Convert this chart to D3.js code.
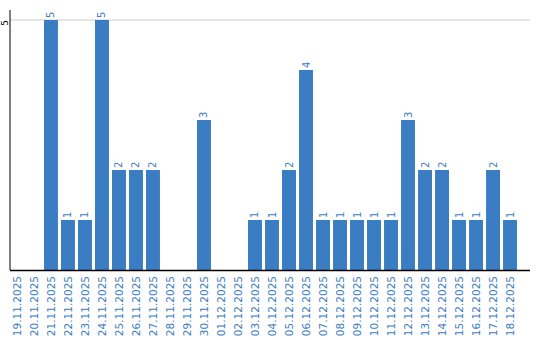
<!DOCTYPE html>
<html>
<head>
<meta charset="utf-8">
<script src="https://cdn.jsdelivr.net/npm/d3@7"></script>
<style>
  body { margin: 0; background: #fff; }
  text { font-family: "DejaVu Sans", Verdana, sans-serif; font-size: 10px; }
</style>
</head>
<body>
<div id="chart"></div>
<script>
var dates = ["19.11.2025", "20.11.2025", "21.11.2025", "22.11.2025", "23.11.2025",
  "24.11.2025", "25.11.2025", "26.11.2025", "27.11.2025", "28.11.2025",
  "29.11.2025", "30.11.2025", "01.12.2025", "02.12.2025", "03.12.2025",
  "04.12.2025", "05.12.2025", "06.12.2025", "07.12.2025", "08.12.2025",
  "09.12.2025", "10.12.2025", "11.12.2025", "12.12.2025", "13.12.2025",
  "14.12.2025", "15.12.2025", "16.12.2025", "17.12.2025", "18.12.2025"];
var counts = [0, 0, 5, 1, 1, 5, 2, 2, 2, 0, 0, 3, 0, 0, 1, 1, 2, 4, 1, 1, 1, 1, 1, 3, 2, 2, 1, 1, 2, 1];
var yTicks = [5];

var data = dates.map(function(d, i) {
  return { date: d, value: counts[i] };
});

var width = 540, height = 340;
var plotLeft = 10, plotRight = 530, plotTop = 10, plotBottom = 270;
var blue = "#3a7dc2";

var svg = d3
  .select("#chart")
  .append("svg")
  .attr("width", width)
  .attr("height", height);

var x = d3
  .scaleBand()
  .domain(dates)
  .range([plotLeft, 517])
  .paddingInner(0.18)
  .paddingOuter(0);
var y = d3.scaleLinear().domain([0, 5.2]).range([plotBottom, plotTop]);

// grid
svg
  .selectAll(".grid")
  .data(yTicks)
  .enter()
  .append("line")
  .attr("class", "grid")
  .attr("x1", plotLeft)
  .attr("x2", plotRight)
  .attr("y1", d => y(d))
  .attr("y2", d => y(d))
  .style("stroke", "#cccccc")
  .style("stroke-width", 1);

// y tick labels
svg
  .selectAll(".ytick")
  .data(yTicks)
  .enter()
  .append("text")
  .attr("class", "ytick")
  .attr("transform", d => "translate(4.5," + y(d) + ") rotate(-90)")
  .attr("dy", "0.35em")
  .style("text-anchor", "end")
  .style("font-size", "9px")
  .style("fill", "#000")
  .text(d => d);

svg
  .selectAll(".bar")
  .data(data.filter(d => d.value > 0))
  .enter()
  .append("rect")
  .attr("class", "bar")
  .attr("x", d => x(d.date))
  .attr("width", x.bandwidth())
  .attr("y", d => y(d.value))
  .attr("height", d => plotBottom - y(d.value))
  .style("fill", blue);

svg
  .selectAll(".label")
  .data(data.filter(d => d.value > 0))
  .enter()
  .append("text")
  .attr("class", "label")
  .attr("transform", d => {
    return "translate(" + (x(d.date) + x.bandwidth() / 2) + "," + (y(d.value) - 2) + ") rotate(-90)";
  })
  .attr("dy", "0.35em")
  .style("text-anchor", "start")
  .style("fill", blue)
  .text(d => d.value);

// axes lines
svg
  .append("line")
  .attr("x1", plotLeft)
  .attr("x2", plotLeft)
  .attr("y1", plotTop)
  .attr("y2", plotBottom)
  .style("stroke", "#000")
  .style("stroke-width", 1);
svg
  .append("line")
  .attr("x1", plotLeft)
  .attr("x2", plotRight)
  .attr("y1", plotBottom + 0.5)
  .attr("y2", plotBottom + 0.5)
  .style("stroke", "#000")
  .style("stroke-width", 1.5);

// x labels
svg
  .selectAll(".xlabel")
  .data(dates)
  .enter()
  .append("text")
  .attr("class", "xlabel")
  .attr("transform", d => {
    return "translate(" + (x(d) + x.bandwidth() / 2) + "," + (plotBottom + 6) + ") rotate(-90)";
  })
  .attr("dy", "0.35em")
  .style("text-anchor", "end")
  .style("font-size", "10.5px")
  .style("fill", blue)
  .text(d => d);
</script>
</body>
</html>
